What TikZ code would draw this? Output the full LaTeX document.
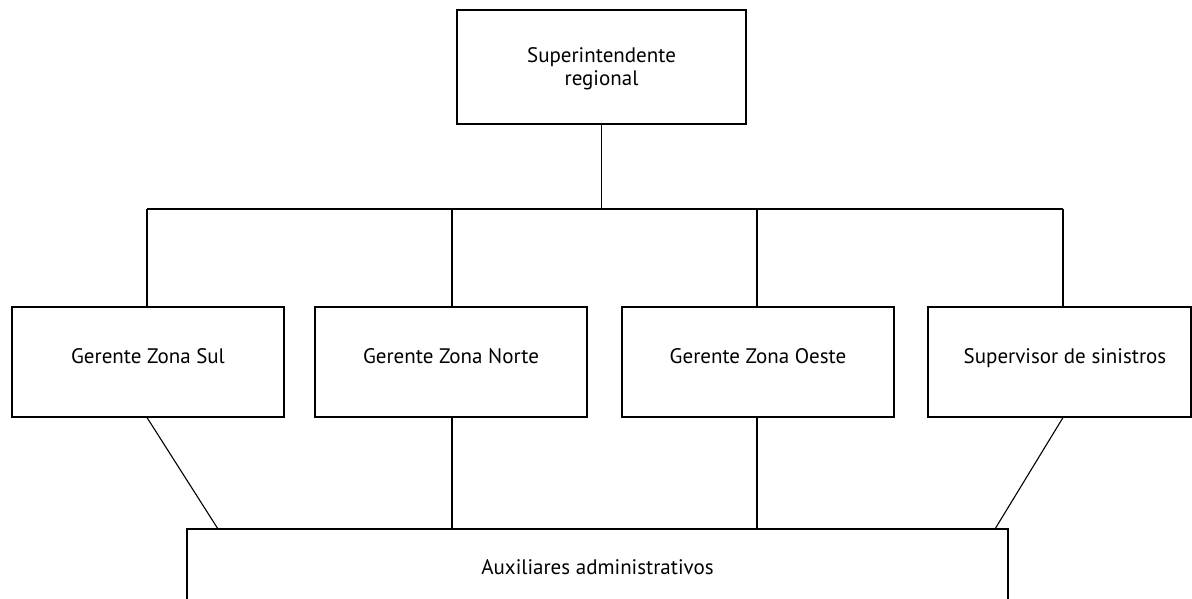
\documentclass[tikz,border=0pt]{standalone}
\usepackage{fontspec}
\setmainfont{PT Sans}
\begin{document}
\begin{tikzpicture}[x=1pt,y=-1pt,
  box/.style={draw=black, line width=1.1pt, fill=white, inner sep=0pt,
    align=center, font=\fontsize{21}{23}\selectfont},
  rowbox/.style={box, minimum width=272pt, minimum height=110pt,
    text height=15pt, text depth=13pt},
  link/.style={draw=black, line width=1.1pt}]
  \useasboundingbox (0,0) rectangle (1192,599);
  \clip (0,0) rectangle (1192,599);

  % top of the hierarchy
  \node[box, minimum width=289pt, minimum height=114pt, text depth=0pt] (top) at (601.5,67)
    {Superintendente\\regional};

  % managers row
  \node[rowbox] (g1) at (148,362) {Gerente Zona Sul};
  \node[rowbox] (g2) at (451,362) {Gerente Zona Norte};
  \node[rowbox] (g3) at (758,362) {Gerente Zona Oeste};
  \node[rowbox, minimum width=263pt] (g4) at (1059.5,362) {\hspace*{11pt}Supervisor de sinistros};

  % shared support staff
  \node[box, minimum width=821pt, minimum height=76pt] (aux) at (597.5,567) {Auxiliares administrativos};

  % bus junctions
  \coordinate (b0) at (601.5,209);
  \coordinate (b1) at (147,209);
  \coordinate (b2) at (452,209);
  \coordinate (b3) at (757,209);
  \coordinate (b4) at (1063,209);

  % feet of the lower connectors on the support box
  \coordinate (f1) at (218,529);
  \coordinate (f4) at (995,529);

  \draw[link] (top.south) -- (b0);
  \draw[link] (b1) -- (b4);
  \draw[link] (b1) -- (b1 |- g1.north);
  \draw[link] (b2) -- (b2 |- g2.north);
  \draw[link] (b3) -- (b3 |- g3.north);
  \draw[link] (b4) -- (b4 |- g4.north);

  \draw[link] (b1 |- g1.south) -- (f1);
  \draw[link] (b2 |- g2.south) -- (b2 |- aux.north);
  \draw[link] (b3 |- g3.south) -- (b3 |- aux.north);
  \draw[link] (b4 |- g4.south) -- (f4);
\end{tikzpicture}
\end{document}
